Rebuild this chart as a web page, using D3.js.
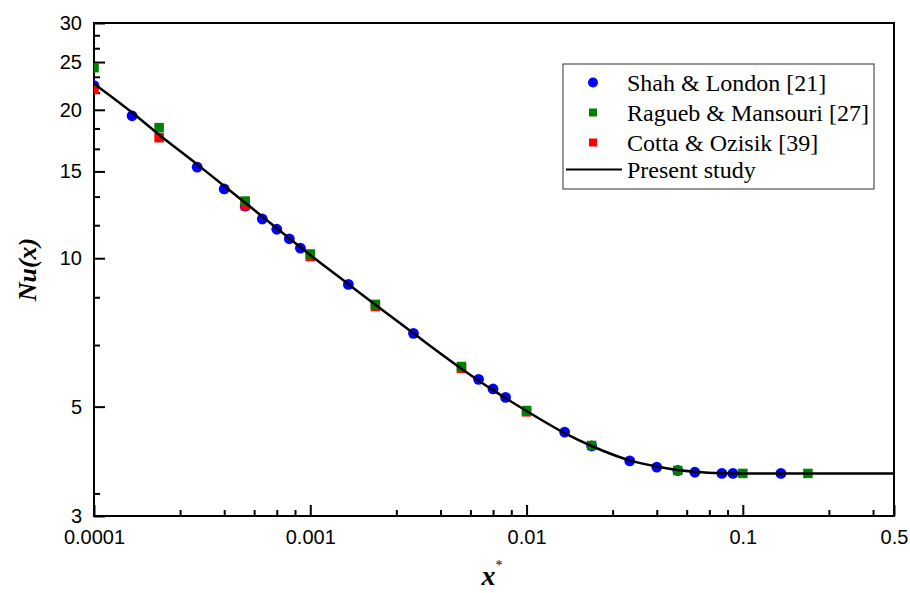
<!DOCTYPE html>
<html>
<head>
<meta charset="utf-8">
<script src="https://cdn.jsdelivr.net/npm/d3@7/dist/d3.min.js"></script>
<style>
  body { margin: 0; background: #fff; }
  svg { display: block; }
</style>
</head>
<body>
<div id="chart"></div>
<script>
// Shah & London [21]
var shahX  = [0.0001, 0.00015, 0.0003, 0.0004, 0.0005, 0.0006, 0.0007, 0.0008, 0.0009, 0.0015, 0.003, 0.006, 0.007, 0.008, 0.015, 0.02, 0.03, 0.04, 0.05, 0.06, 0.08, 0.09, 0.15];
var shahNu = [22.4, 19.45, 15.3, 13.82, 12.75, 12.01, 11.45, 10.95, 10.48, 8.85, 7.04, 5.68, 5.43, 5.22, 4.44, 4.16, 3.88, 3.77, 3.71, 3.68, 3.66, 3.66, 3.66];

// Ragueb & Mansouri [27]
var raguebX  = [0.0001, 0.0002, 0.0005, 0.001, 0.002, 0.005, 0.01, 0.02, 0.05, 0.1, 0.2];
var raguebNu = [24.35, 18.4, 13.06, 10.2, 8.06, 6.03, 4.91, 4.17, 3.71, 3.66, 3.66];

// Cotta & Ozisik [39]
var cottaX  = [0.0001, 0.0002, 0.0005, 0.001, 0.002, 0.005, 0.01];
var cottaNu = [22.0, 17.56, 12.78, 10.08, 7.98, 5.98, 4.88];

// Present study
var presentX  = [0.0001, 0.00015, 0.0002, 0.0003, 0.0005, 0.0007, 0.001, 0.0015, 0.002, 0.003, 0.005, 0.007, 0.01, 0.015, 0.02, 0.03, 0.04, 0.05, 0.06, 0.08, 0.1, 0.2, 0.5];
var presentNu = [22.6, 19.75, 17.8, 15.5, 12.96, 11.5, 10.15, 8.86, 8.05, 7.04, 5.97, 5.4, 4.9, 4.42, 4.16, 3.89, 3.78, 3.72, 3.69, 3.665, 3.66, 3.66, 3.66];

// ticks
var xMajor = [0.0001, 0.001, 0.01, 0.1, 0.5];
var xMinor = [0.00025, 0.0004, 0.00055, 0.0007, 0.00085,
              0.0025, 0.004, 0.0055, 0.007, 0.0085,
              0.025, 0.04, 0.055, 0.07, 0.085,
              0.25, 0.4];
var yMajor = [3, 5, 10, 15, 20, 25, 30];
var yMinor = [3.3333, 6.6667, 8.3333, 11.6667, 13.3333, 16.6667, 18.3333, 21.6667, 23.3333, 26.6667, 28.3333];

var seriesNames = ["Shah & London [21]", "Ragueb & Mansouri [27]", "Cotta & Ozisik [39]", "Present study"];

var margin = {top: 23, right: 16, bottom: 77, left: 94},
    width = 910 - margin.left - margin.right,
    height = 593 - margin.top - margin.bottom;

var svg = d3.select("#chart")
    .append("svg")
    .attr("width", 910)
    .attr("height", 593);

var g = svg.append("g")
    .attr("transform", "translate(" + margin.left + "," + margin.top + ")");

var x = d3.scaleLog()
    .domain([0.0001, 0.5])
    .range([0, width]);

var y = d3.scaleLog()
    .domain([3, 30])
    .range([height, 0]);

svg.append("defs").append("clipPath")
    .attr("id", "plot-clip")
  .append("rect")
    .attr("width", width)
    .attr("height", height);

// minor ticks
g.append("g")
    .attr("transform", "translate(0," + height + ")")
    .call(d3.axisBottom(x).tickValues(xMinor).tickSize(-6).tickSizeOuter(0).tickFormat(""))
    .call(function(a){ a.select(".domain").remove(); })
    .selectAll("line").attr("stroke-width", 2);

g.append("g")
    .call(d3.axisLeft(y).tickValues(yMinor).tickSize(-6).tickSizeOuter(0).tickFormat(""))
    .call(function(a){ a.select(".domain").remove(); })
    .selectAll("line").attr("stroke-width", 2);

// major ticks
var xAxis = g.append("g")
    .attr("transform", "translate(0," + height + ")")
    .call(d3.axisBottom(x).tickValues(xMajor).tickSize(-11).tickSizeOuter(0).tickPadding(14)
        .tickFormat(function(d){ return String(d); }));
xAxis.select(".domain").remove();
xAxis.selectAll("line").attr("stroke-width", 2);
xAxis.selectAll("text")
    .style("font-family", "Liberation Sans, Arial, sans-serif")
    .style("font-size", "20px")
    .attr("fill", "#000");

var yAxis = g.append("g")
    .call(d3.axisLeft(y).tickValues(yMajor).tickSize(-11).tickSizeOuter(0).tickPadding(12)
        .tickFormat(function(d){ return String(d); }));
yAxis.select(".domain").remove();
yAxis.selectAll("line").attr("stroke-width", 2);
yAxis.selectAll("text")
    .style("font-family", "Liberation Sans, Arial, sans-serif")
    .style("font-size", "20px")
    .attr("fill", "#000");
yAxis.selectAll(".tick")
    .filter(function(d){ return d === 3; })
    .select("text").attr("dy", "0.3em");

// frame
g.append("rect")
    .attr("width", width)
    .attr("height", height)
    .attr("fill", "none")
    .attr("stroke", "#000")
    .attr("stroke-width", 2);

var plot = g.append("g").attr("clip-path", "url(#plot-clip)");

// Shah & London circles
plot.selectAll(".shah")
    .data(d3.range(shahX.length))
    .enter().append("circle")
    .attr("class", "shah")
    .attr("cx", function(i){ return x(shahX[i]); })
    .attr("cy", function(i){ return y(shahNu[i]); })
    .attr("r", 5.4)
    .attr("fill", "#0000ff");

// Cotta & Ozisik squares
var sq = 9.5;
plot.selectAll(".cotta")
    .data(d3.range(cottaX.length))
    .enter().append("rect")
    .attr("class", "cotta")
    .attr("x", function(i){ return x(cottaX[i]) - sq/2; })
    .attr("y", function(i){ return y(cottaNu[i]) - sq/2; })
    .attr("width", sq)
    .attr("height", sq)
    .attr("fill", "#ff0000");

// Ragueb & Mansouri squares
plot.selectAll(".ragueb")
    .data(d3.range(raguebX.length))
    .enter().append("rect")
    .attr("class", "ragueb")
    .attr("x", function(i){ return x(raguebX[i]) - sq/2; })
    .attr("y", function(i){ return y(raguebNu[i]) - sq/2; })
    .attr("width", sq)
    .attr("height", sq)
    .attr("fill", "#008000");

// present study line
var line = d3.line()
    .x(function(i){ return x(presentX[i]); })
    .y(function(i){ return y(presentNu[i]); })
    .curve(d3.curveMonotoneX);

plot.append("path")
    .datum(d3.range(presentX.length))
    .attr("d", line)
    .attr("fill", "none")
    .attr("stroke", "#000")
    .attr("stroke-width", 2.5);

// Y label
svg.append("text")
    .attr("transform", "translate(36," + (margin.top + height / 2) + ") rotate(-90)")
    .attr("text-anchor", "middle")
    .style("font-family", "Liberation Serif, Times New Roman, serif")
    .style("font-size", "26px")
    .style("font-weight", "bold")
    .style("font-style", "italic")
    .text("Nu(x)");

// X label
var xl = svg.append("text")
    .attr("x", 492)
    .attr("y", 585)
    .attr("text-anchor", "middle")
    .style("font-family", "Liberation Serif, Times New Roman, serif")
    .style("font-size", "28px")
    .style("font-weight", "bold")
    .style("font-style", "italic");
xl.append("tspan").text("x");
xl.append("tspan")
    .attr("dy", -15)
    .style("font-size", "14px")
    .style("font-style", "normal")
    .style("font-weight", "normal")
    .text("*");

// Legend
var legend = svg.append("g")
    .attr("transform", "translate(563,64)");

legend.append("rect")
    .attr("width", 311)
    .attr("height", 125)
    .attr("fill", "#fff")
    .attr("stroke", "#333")
    .attr("stroke-width", 1);

var rowY = [18.5, 48.5, 78.5, 105.5];

seriesNames.forEach(function(name, i){
    var row = legend.append("g")
        .attr("transform", "translate(0," + rowY[i] + ")");
    if (i === 0) {
        row.append("circle").attr("cx", 30).attr("cy", 0).attr("r", 5).attr("fill", "#0000ff");
    } else if (i === 1 || i === 2) {
        row.append("rect").attr("x", 26).attr("y", -4).attr("width", 8).attr("height", 8)
            .attr("fill", i === 1 ? "#008000" : "#ff0000");
    } else {
        row.append("line").attr("x1", 3).attr("x2", 59).attr("y1", 0).attr("y2", 0)
            .attr("stroke", "#000").attr("stroke-width", 2);
    }
    row.append("text")
        .attr("x", 64)
        .attr("y", 8)
        .style("font-family", "Liberation Serif, Times New Roman, serif")
        .style("font-size", "24px")
        .attr("fill", "#000")
        .text(name);
});
</script>
</body>
</html>
